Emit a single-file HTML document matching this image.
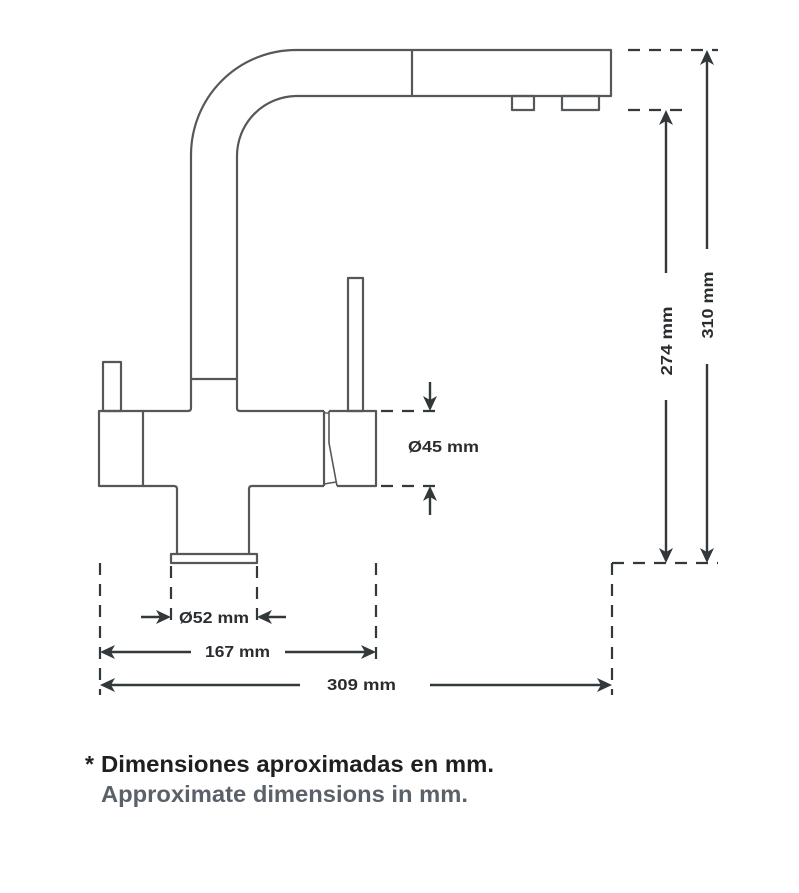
<!DOCTYPE html>
<html>
<head>
<meta charset="utf-8">
<style>
html,body{margin:0;padding:0;background:#ffffff;}
svg{display:block;}
</style>
</head>
<body>
<svg width="799" height="893" viewBox="0 0 799 893" xmlns="http://www.w3.org/2000/svg">
  <rect width="799" height="893" fill="#ffffff"/>
  <!-- Faucet drawing -->
  <g fill="none" stroke="#55585b" stroke-width="2.2" stroke-linejoin="round">
    <path d="M143,411 L188,411 Q191,411 191,408 L191,155 A105,105 0 0 1 296,50 L611,50 L611,96 L296,96 A60,60 0 0 0 237,156 L237,408 Q237,411 240,411 L324,411"/>
    <line x1="191" y1="379" x2="237" y2="379"/>
    <line x1="412" y1="50" x2="412" y2="96"/>
    <rect x="512" y="96" width="22" height="14"/>
    <rect x="562" y="96" width="37" height="14"/>
    <rect x="103" y="362" width="18" height="49"/>
    <rect x="99" y="411" width="44" height="75"/>
    <path d="M143,486 L174,486 Q177,486 177,489 L177,554"/>
    <path d="M249,554 L249,489 Q249,486 252,486 L324,486"/>
    <rect x="171" y="554" width="86" height="9"/>
    <line x1="324" y1="411" x2="324" y2="486"/>
    <path d="M329,411 L376,411 L376,486 L337,486"/>
    <path d="M329,411 L329,443 L337,486" stroke-width="1.6"/>
    <line x1="324" y1="413" x2="329" y2="413" stroke-width="1.4"/>
    <line x1="324" y1="484" x2="336" y2="482" stroke-width="1.4"/>
    <rect x="348" y="278" width="15" height="133"/>
  </g>

  <!-- Dashed extension lines -->
  <g fill="none" stroke="#33383b" stroke-width="2.2" stroke-dasharray="12 9">
    <line x1="381" y1="411" x2="441" y2="411"/>
    <line x1="381" y1="486" x2="441" y2="486"/>
    <line x1="628" y1="50" x2="718" y2="50"/>
    <line x1="628" y1="110" x2="682" y2="110"/>
    <line x1="612" y1="563" x2="718" y2="563"/>
    <line x1="612" y1="563" x2="612" y2="695"/>
    <line x1="100" y1="563" x2="100" y2="695"/>
    <line x1="171" y1="566" x2="171" y2="627"/>
    <line x1="257" y1="566" x2="257" y2="627"/>
    <line x1="376" y1="563" x2="376" y2="662"/>
  </g>

  <!-- Dimension lines -->
  <g fill="none" stroke="#33383b" stroke-width="2.4">
    <line x1="430" y1="382" x2="430" y2="402"/>
    <line x1="430" y1="495" x2="430" y2="515"/>
    <line x1="666" y1="119" x2="666" y2="273"/>
    <line x1="666" y1="400" x2="666" y2="554"/>
    <line x1="707" y1="59" x2="707" y2="249"/>
    <line x1="707" y1="364" x2="707" y2="554"/>
    <line x1="141" y1="617" x2="162" y2="617"/>
    <line x1="266" y1="617" x2="286" y2="617"/>
    <line x1="109" y1="652" x2="191" y2="652"/>
    <line x1="285" y1="652" x2="367" y2="652"/>
    <line x1="109" y1="685" x2="300" y2="685"/>
    <line x1="430" y1="685" x2="603" y2="685"/>
  </g>

  <!-- Arrowheads -->
  <g fill="#33383b" stroke="none">
    <path d="M430,411 L423,396 L430,400 L437,396 Z"/>
    <path d="M430,486 L423,501 L430,497 L437,501 Z"/>
    <path d="M666,110 L659,125 L666,121 L673,125 Z"/>
    <path d="M666,563 L659,548 L666,552 L673,548 Z"/>
    <path d="M707,50 L700,65 L707,61 L714,65 Z"/>
    <path d="M707,563 L700,548 L707,552 L714,548 Z"/>
    <path d="M171,617 L156,610 L160,617 L156,624 Z"/>
    <path d="M257,617 L272,610 L268,617 L272,624 Z"/>
    <path d="M100,652 L115,645 L111,652 L115,659 Z"/>
    <path d="M376,652 L361,645 L365,652 L361,659 Z"/>
    <path d="M100,685 L115,678 L111,685 L115,692 Z"/>
    <path d="M612,685 L597,678 L601,685 L597,692 Z"/>
  </g>

  <!-- Dimension labels -->
  <g font-family="'Liberation Sans', Arial, sans-serif" font-weight="bold" font-size="16" fill="#2a2d30">
    <text x="408" y="452" textLength="71" lengthAdjust="spacingAndGlyphs">Ø45 mm</text>
    <text x="179" y="623" textLength="70" lengthAdjust="spacingAndGlyphs">Ø52 mm</text>
    <text x="205" y="657" textLength="65" lengthAdjust="spacingAndGlyphs">167 mm</text>
    <text x="327" y="690" textLength="69" lengthAdjust="spacingAndGlyphs">309 mm</text>
    <text transform="translate(666,341) rotate(-90)" x="-34.5" y="5.8" textLength="69" lengthAdjust="spacingAndGlyphs">274 mm</text>
    <text transform="translate(707,305) rotate(-90)" x="-33.5" y="5.8" textLength="67" lengthAdjust="spacingAndGlyphs">310 mm</text>
  </g>

  <!-- Footnote -->
  <g font-family="'Liberation Sans', Arial, sans-serif" font-weight="bold" font-size="23">
    <text x="85" y="772" fill="#1e1f21">*</text>
    <text x="101" y="772" fill="#1e1f21" textLength="393" lengthAdjust="spacingAndGlyphs">Dimensiones aproximadas en mm.</text>
    <text x="101" y="802" fill="#5b6169" textLength="367" lengthAdjust="spacingAndGlyphs">Approximate dimensions in mm.</text>
  </g>
</svg>
</body>
</html>
